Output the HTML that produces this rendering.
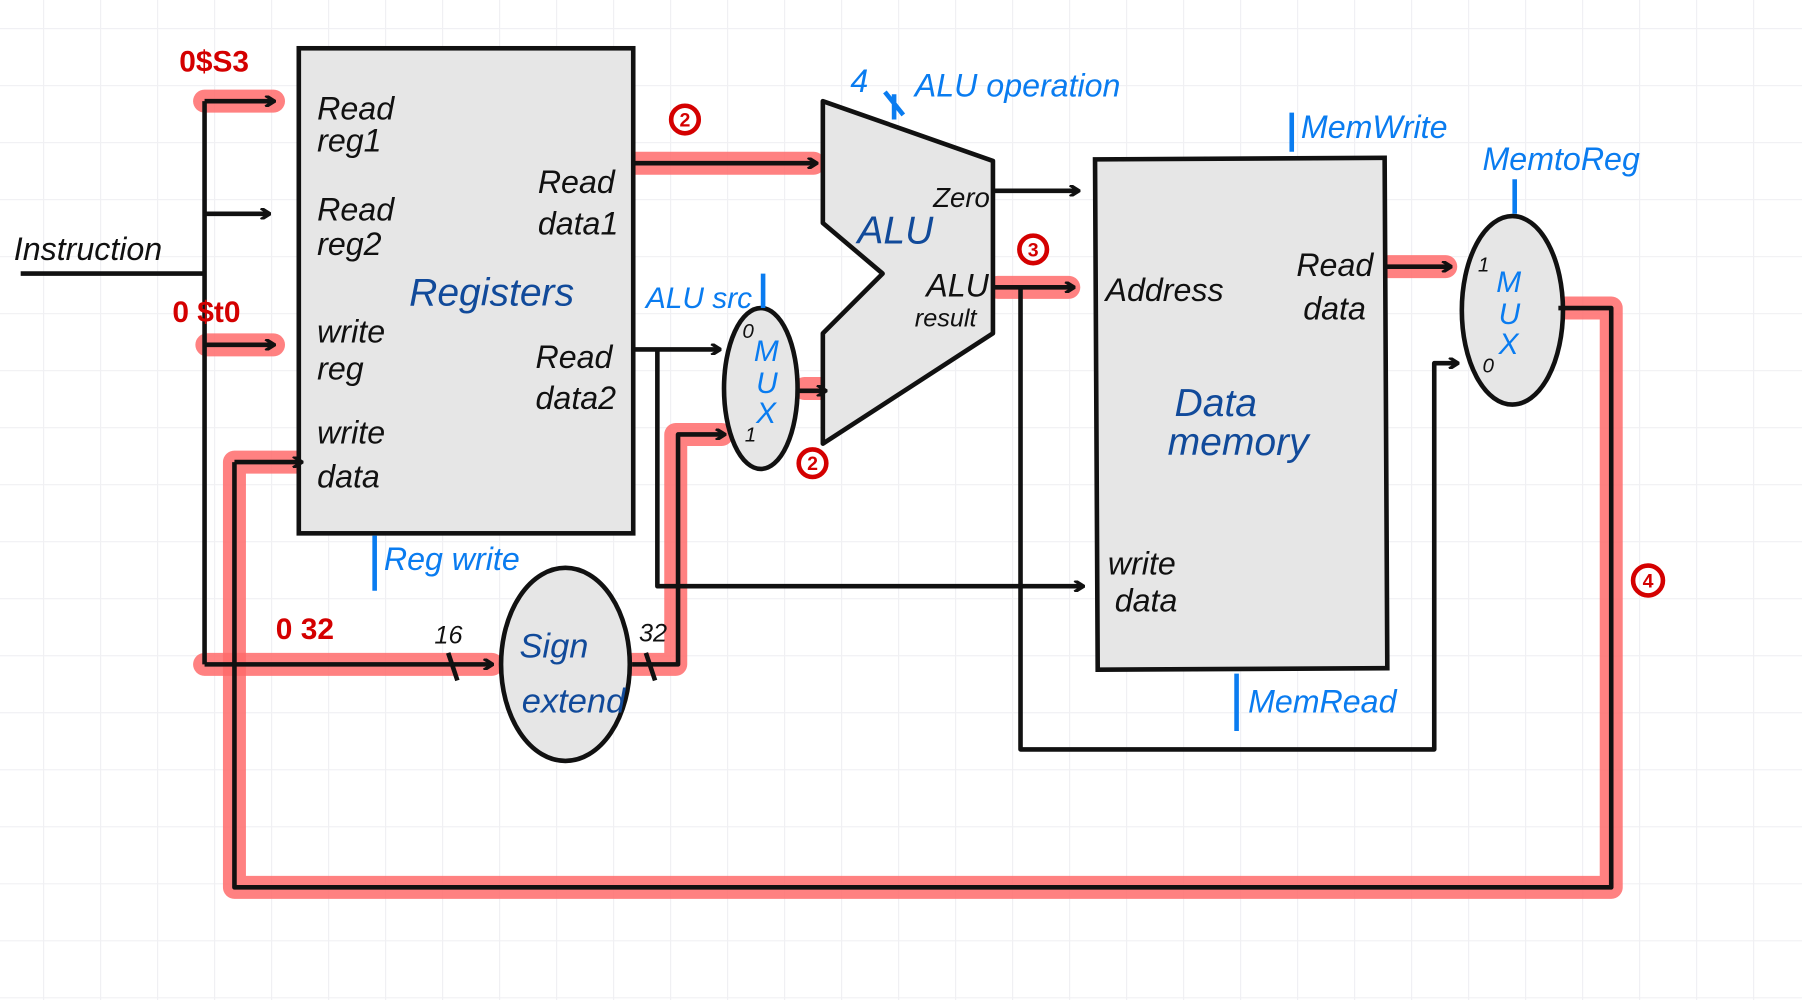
<!DOCTYPE html>
<html><head><meta charset="utf-8"><style>
html,body{margin:0;padding:0;background:#fff;}
svg{display:block}
text{font-family:"Liberation Sans",sans-serif;}
.k{fill:#111;font-size:28px;font-style:italic;}
.b{fill:#0a7cf0;font-size:28px;font-style:italic;}
.d{fill:#114a9a;font-size:34px;font-style:italic;}
.r{fill:#d40000;font-size:26px;font-weight:bold;}
</style></head><body>
<svg width="1802" height="1000" viewBox="0 0 1568 870" preserveAspectRatio="none" xmlns="http://www.w3.org/2000/svg">
<defs>
<pattern id="g" x="37.4" y="24.4" width="49.6" height="49.6" patternUnits="userSpaceOnUse">
<path d="M0 0H49.6M0 0V49.6" stroke="#f0f0f3" stroke-width="2" fill="none"/>
</pattern>
<marker id="a" markerWidth="10" markerHeight="10" refX="8" refY="5" orient="auto" markerUnits="userSpaceOnUse"><path d="M1 0L9 5L1 10" fill="none" stroke="#111" stroke-width="3"/></marker>
</defs>
<rect width="1568" height="870" fill="url(#g)"/>
<g stroke="#ff6b6b" stroke-opacity="0.85" stroke-width="20" stroke-linecap="round" stroke-linejoin="round" fill="none">
<path d="M178 88H238"/>
<path d="M180 300H238"/>
<path d="M552 142H708"/>
<path d="M700 338H716"/>
<path d="M868 250H930"/>
<path d="M1208 232H1258"/>
<path d="M178 578H428"/>
<path d="M544 578H588V378H628"/>
<path d="M1356 268H1402V772H204V402H258"/>
</g>
<rect x="260" y="42" width="291" height="422" fill="#e6e6e6" stroke="#111" stroke-width="4"/>
<rect x="954" y="138" width="252" height="444" fill="#e6e6e6" stroke="#111" stroke-width="4" transform="rotate(-0.3 1080 360)"/>
<path d="M716 88L864 140V290L716 386V290L768 238L716 194Z" fill="#e6e6e6" stroke="#111" stroke-width="4" stroke-linejoin="round"/>
<ellipse cx="662" cy="338" rx="32" ry="70" fill="#e6e6e6" stroke="#111" stroke-width="4"/>
<ellipse cx="1316" cy="270" rx="44" ry="82" fill="#e6e6e6" stroke="#111" stroke-width="4"/>
<ellipse cx="492" cy="578" rx="56" ry="84" fill="#e6e6e6" stroke="#111" stroke-width="4"/>
<g stroke="#111" stroke-width="4" fill="none" stroke-linejoin="round">
<path d="M18 238H178"/>
<path d="M178 88V578"/>
<path d="M178 88H238" marker-end="url(#a)"/>
<path d="M178 186H234" marker-end="url(#a)"/>
<path d="M178 300H238" marker-end="url(#a)"/>
<path d="M178 578H428" marker-end="url(#a)"/>
<path d="M204 402V772H1402V268H1356"/>
<path d="M204 402H262" marker-end="url(#a)"/>
<path d="M552 142H710" marker-end="url(#a)"/>
<path d="M552 304H626" marker-end="url(#a)"/>
<path d="M572 304V510H942" marker-end="url(#a)"/>
<path d="M550 578H590V378H630" marker-end="url(#a)"/>
<path d="M694 340H718" marker-end="url(#a)"/>
<path d="M864 166H938" marker-end="url(#a)"/>
<path d="M864 250H934" marker-end="url(#a)"/>
<path d="M888 250V652H1248V316H1268" marker-end="url(#a)"/>
<path d="M1206 232H1262" marker-end="url(#a)"/>
<path d="M390 568L398 592M562 568L570 592"/>
</g>
<g stroke="#0a7cf0" stroke-width="4" fill="none">
<path d="M326 466V514M664 238V268M1124 98V132M1318 156V186M1076 586V636M770 80L786 100M778 82V104"/>
</g>
<g fill="none" stroke="#d40000" stroke-width="4">
<circle cx="596" cy="104" r="12"/><circle cx="707" cy="403" r="12"/><circle cx="899" cy="217" r="12"/><circle cx="1434" cy="505" r="13"/>
</g>
<g fill="#d40000" font-size="17" font-weight="bold" text-anchor="middle">
<text x="596" y="110">2</text><text x="707" y="409">2</text><text x="899" y="223">3</text><text x="1434" y="511">4</text>
</g>
<text class="k" x="12" y="226">Instruction</text>
<text class="k" x="276" y="104">Read</text><text class="k" x="276" y="132">reg1</text>
<text class="k" x="276" y="192">Read</text><text class="k" x="276" y="222">reg2</text>
<text class="k" x="276" y="298">write</text><text class="k" x="276" y="330">reg</text>
<text class="k" x="276" y="386">write</text><text class="k" x="276" y="424">data</text>
<text class="k" x="468" y="168">Read</text><text class="k" x="468" y="204">data1</text>
<text class="k" x="466" y="320">Read</text><text class="k" x="466" y="356">data2</text>
<text class="d" x="356" y="266">Registers</text>
<text class="k" x="812" y="180" style="font-size:24px">Zero</text>
<text class="k" x="806" y="258">ALU</text><text class="k" x="796" y="284" style="font-size:22px">result</text>
<text class="d" x="746" y="212">ALU</text>
<text class="k" x="962" y="262">Address</text>
<text class="k" x="1128" y="240">Read</text><text class="k" x="1134" y="278">data</text>
<text class="d" x="1022" y="362">Data</text><text class="d" x="1016" y="396">memory</text>
<text class="k" x="964" y="500">write</text><text class="k" x="970" y="532">data</text>
<text class="d" x="452" y="572" style="font-size:30px">Sign</text><text class="d" x="454" y="620" style="font-size:30px">extend</text>
<text class="b" x="656" y="314" style="font-size:26px">M</text><text class="b" x="658" y="342" style="font-size:26px">U</text><text class="b" x="658" y="368" style="font-size:26px">X</text>
<text class="k" x="646" y="294" style="font-size:18px">0</text><text class="k" x="648" y="384" style="font-size:18px">1</text>
<text class="b" x="1302" y="254" style="font-size:26px">M</text><text class="b" x="1304" y="282" style="font-size:26px">U</text><text class="b" x="1304" y="308" style="font-size:26px">X</text>
<text class="k" x="1286" y="236" style="font-size:18px">1</text><text class="k" x="1290" y="324" style="font-size:18px">0</text>
<text class="k" x="378" y="560" style="font-size:22px">16</text>
<text class="k" x="556" y="558" style="font-size:22px">32</text>
<text class="b" x="562" y="268" style="font-size:26px">ALU src</text>
<text class="b" x="740" y="80">4</text>
<text class="b" x="796" y="84">ALU operation</text>
<text class="b" x="1132" y="120">MemWrite</text>
<text class="b" x="1290" y="148">MemtoReg</text>
<text class="b" x="334" y="496">Reg write</text>
<text class="b" x="1086" y="620">MemRead</text>
<text class="r" x="156" y="62">0$S3</text>
<text class="r" x="150" y="280">0 $t0</text>
<text class="r" x="240" y="556">0 32</text>
</svg>
</body></html>
